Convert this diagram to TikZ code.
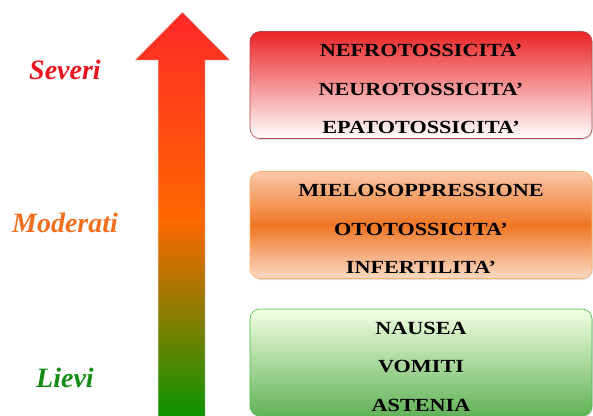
\documentclass[tikz,border=0pt]{standalone}
\usepackage{fontspec}
\setmainfont{Liberation Serif}
\newfontfamily\capsfont[FakeStretch=1.2, Ligatures=TeX]{Liberation Serif}
\usetikzlibrary{positioning,shadows}
\definecolor{arrtop}{RGB}{255,40,40}
\definecolor{arrmid}{RGB}{255,102,0}
\definecolor{arrbot}{RGB}{0,150,0}
\definecolor{sevtxt}{RGB}{235,20,30}
\definecolor{modtxt}{RGB}{242,110,30}
\definecolor{lietxt}{RGB}{20,140,20}
\definecolor{sevtop}{RGB}{234,36,38}
\definecolor{modtop}{RGB}{250,200,170}
\definecolor{modmid}{RGB}{240,118,36}
\definecolor{modbot}{RGB}{251,218,198}
\definecolor{lietop}{RGB}{242,255,226}
\definecolor{liebot}{RGB}{98,178,88}
\tikzset{
  lvl/.style={font=\fontsize{28}{30}\selectfont\bfseries\itshape, inner sep=0pt},
  grp/.style={rounded corners=10pt, minimum width=342pt, minimum height=107pt, align=center,
    font=\capsfont\bfseries\fontsize{18.5}{38.5}\selectfont, line width=0.6pt,
    text height=97pt, text depth=0pt,
    drop shadow={opacity=0.25, shadow xshift=1pt, shadow yshift=-1.5pt}},
  sevbox/.style={grp, draw=red!45!gray, top color=sevtop, bottom color=white},
  modbox/.style={grp, draw=orange!60!white, top color=modtop, bottom color=modbot, middle color=modmid},
  liebox/.style={grp, draw=green!45!gray, top color=lietop, bottom color=liebot},
}
\begin{document}
\begin{tikzpicture}[x=1pt, y=-1pt]
\useasboundingbox (0,0) rectangle (593,415);
\clip (0,0) rectangle (593,415);

%% ---- la freccia della gravita'
\shade[top color=arrtop, bottom color=arrbot, middle color=arrmid, draw=black!12, line width=0.5pt]
  (158,425) -- (158,60) -- (135,60) -- (182.5,12) -- (230,60) -- (205,60) -- (205,425) -- cycle;

%% ---- i tre livelli
\node[lvl, text=sevtxt] (sev) at (65,70) {Severi};
\node[lvl, text=modtxt] (mod) at (65,223) {Moderati};
\node[lvl, text=lietxt] (lie) at (65,378) {Lievi};

%% ---- gli effetti, per livello
\node[sevbox] (gsev) at (421,85) {NEFROTOSSICITA'\\NEUROTOSSICITA'\\EPATOTOSSICITA'};
\node[modbox] (gmod) at (421,225) {MIELOSOPPRESSIONE\\OTOTOSSICITA'\\INFERTILITA'};
\node[liebox] (glie) at (421,362.5) {NAUSEA\\VOMITI\\ASTENIA};
\end{tikzpicture}
\end{document}
